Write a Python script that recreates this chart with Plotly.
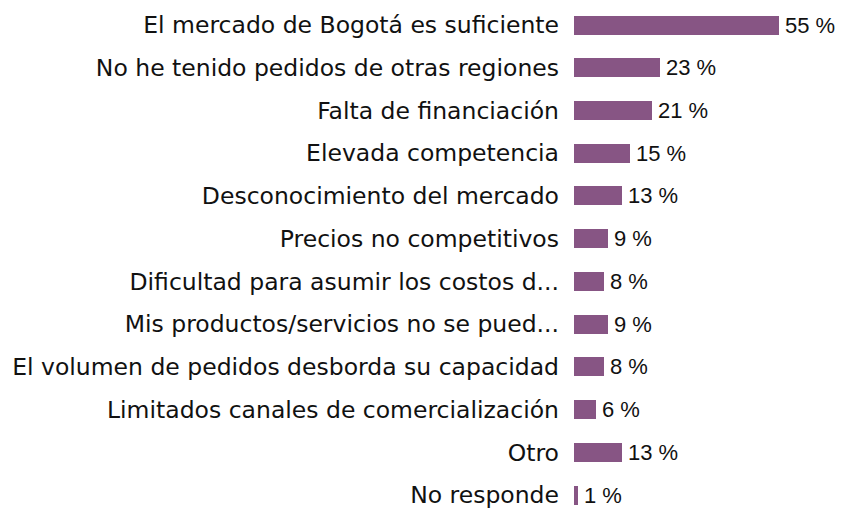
import plotly.graph_objects as go

categories = [
    "El mercado de Bogotá es suficiente",
    "No he tenido pedidos de otras regiones",
    "Falta de financiación",
    "Elevada competencia",
    "Desconocimiento del mercado",
    "Precios no competitivos",
    "Dificultad para asumir los costos d...",
    "Mis productos/servicios no se pued...",
    "El volumen de pedidos desborda su capacidad",
    "Limitados canales de comercialización",
    "Otro",
    "No responde",
]
values = [55, 23, 21, 15, 13, 9, 8, 9, 8, 6, 13, 1]
value_labels = [f"{v} %" for v in values]

BAR_COLOR = "#875584"

fig = go.Figure()
fig.add_trace(go.Bar(
    x=values,
    y=categories,
    orientation="h",
    marker=dict(color=BAR_COLOR, line=dict(width=0)),
    width=0.445,
    hoverinfo="skip",
))

for c, v, t in zip(categories, values, value_labels):
    fig.add_annotation(
        x=v, y=c, text=t, showarrow=False,
        xanchor="left", yanchor="middle", xshift=4, yshift=0,
        font=dict(family="Liberation Sans, Arial, sans-serif", size=22, color="#111111"),
    )

fig.update_layout(
    width=835, height=502,
    margin=dict(l=566, r=0, t=0, b=0, autoexpand=False),
    paper_bgcolor="white", plot_bgcolor="white",
    showlegend=False,
    bargap=0,
    xaxis=dict(range=[0, 72.2], visible=False, fixedrange=True),
    yaxis=dict(
        type="category",
        range=[11.351, -0.398],
        showgrid=False, zeroline=False, showline=False,
        ticks="", ticklabelstandoff=14,
        tickfont=dict(family="DejaVu Sans", size=23.5, color="#111111"),
        fixedrange=True,
    ),
)

fig.write_html("out.html")
